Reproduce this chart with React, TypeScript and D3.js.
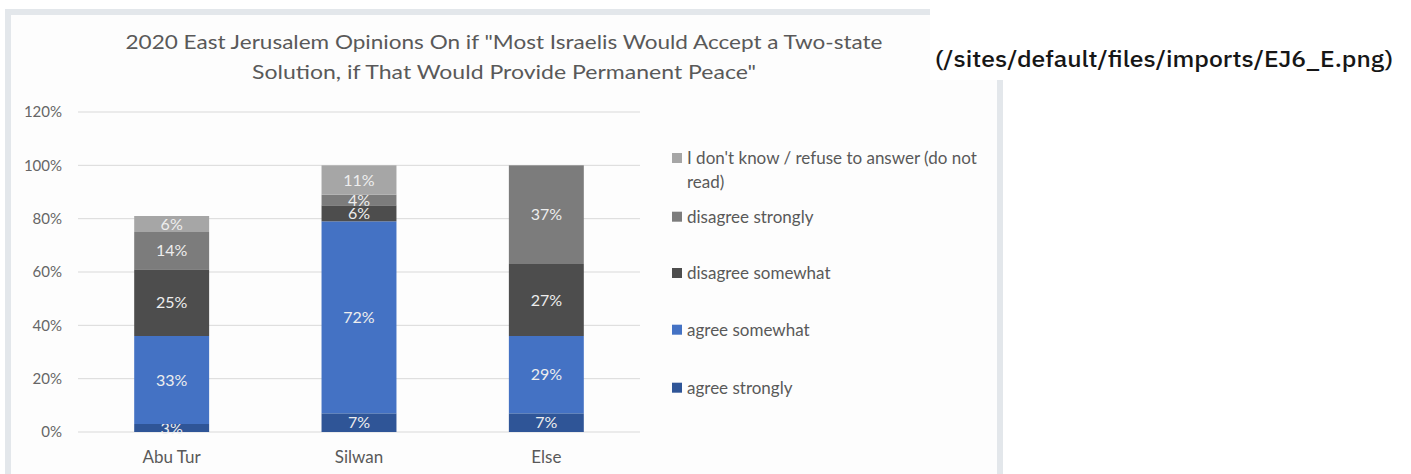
import React from "react";
import * as d3 from "d3";

const titleLines = [
  '2020 East Jerusalem Opinions On if "Most Israelis Would Accept a Two-state',
  'Solution, if That Would Provide Permanent Peace"',
];
const linkText = "(/sites/default/files/imports/EJ6_E.png)";
const categories = ["Abu Tur", "Silwan", "Else"];
const seriesNames = [
  "agree strongly",
  "agree somewhat",
  "disagree somewhat",
  "disagree strongly",
  "I don't know / refuse to answer (do not read)",
];
const agreeStrongly = [0.03, 0.07, 0.07];
const agreeSomewhat = [0.33, 0.72, 0.29];
const disagreeSomewhat = [0.25, 0.06, 0.27];
const disagreeStrongly = [0.14, 0.04, 0.37];
const dontKnow = [0.06, 0.11, 0];
const seriesValues = [agreeStrongly, agreeSomewhat, disagreeSomewhat, disagreeStrongly, dontKnow];
const colors = ["#2f5597", "#4472c4", "#4d4d4d", "#7c7c7c", "#a6a6a6"];
const yTicks = [0, 0.2, 0.4, 0.6, 0.8, 1.0, 1.2];
const legendLines = [
  ["I don't know / refuse to answer (do not", "read)"],
  ["disagree strongly"],
  ["disagree somewhat"],
  ["agree somewhat"],
  ["agree strongly"],
];
const legendColors = ["#a6a6a6", "#7c7c7c", "#4d4d4d", "#4472c4", "#2f5597"];

const FONT = "Lato, 'Open Sans', sans-serif";

export default function App() {
  const x = d3.scaleBand<string>().domain(categories).range([78, 640]).padding(0);
  const y = d3.scaleLinear().domain([0, 1.2]).range([432, 112]);
  const barW = x.bandwidth() * 0.4;

  const table = categories.map((c, i) => {
    const row: any = { cat: c };
    seriesNames.forEach((s, k) => (row[s] = seriesValues[k][i]));
    return row;
  });
  const stacked = d3.stack<any>().keys(seriesNames)(table);

  const legendY = [158, 216.7, 273, 329.7, 387.7];

  return (
    <svg
      width={1411}
      height={474}
      style={{ position: "absolute", left: 0, top: 0, display: "block", background: "#fff" }}
    >
      {/* frame */}
      <rect x={8} y={12} width={992} height={480} fill="#fdfdfd" stroke="#e3e7eb" strokeWidth={6} />
      <rect x={930} y={0} width={481} height={80} fill="#ffffff" />
      {/* title */}
      {titleLines.map((t, i) => (
        <text
          key={i}
          x={504}
          y={49 + i * 30}
          textAnchor="middle"
          fontFamily={FONT}
          fontSize={20}
          fill="#595959"
          textLength={i === 0 ? 757 : 504}
          lengthAdjust="spacingAndGlyphs"
        >
          {t}
        </text>
      ))}
      {/* gridlines + y labels */}
      {yTicks.map((t) => (
        <g key={t}>
          <line x1={78} x2={640} y1={y(t)} y2={y(t)} stroke="#d9d9d9" strokeWidth={1} />
          <text
            x={62}
            y={y(t)}
            dy="0.35em"
            textAnchor="end"
            fontFamily={FONT}
            fontSize={15}
            fill="#666666"
          >
            {d3.format(".0%")(t)}
          </text>
        </g>
      ))}
      {/* bars */}
      {stacked.map((layer, k) => (
        <g key={k}>
          {layer.map((d, i) => {
            const cx = (x(categories[i]) as number) + x.bandwidth() / 2;
            const v = d[1] - d[0];
            if (v <= 0) return null;
            return (
              <g key={i}>
                <rect
                  x={cx - barW / 2}
                  y={y(d[1])}
                  width={barW}
                  height={y(d[0]) - y(d[1])}
                  fill={colors[k]}
                />
                <text
                  x={cx}
                  y={(y(d[0]) + y(d[1])) / 2}
                  dy="0.36em"
                  textAnchor="middle"
                  fontFamily={FONT}
                  fontSize={16}
                  fill="#eeeeee"
                >
                  {d3.format(".0%")(v)}
                </text>
              </g>
            );
          })}
        </g>
      ))}
      {/* x labels */}
      {categories.map((c) => (
        <text
          key={c}
          x={(x(c) as number) + x.bandwidth() / 2}
          y={463}
          textAnchor="middle"
          fontFamily={FONT}
          fontSize={17}
          fill="#595959"
        >
          {c}
        </text>
      ))}
      {/* legend */}
      {legendLines.map((lines, i) => (
        <g key={i}>
          <rect x={672} y={legendY[i] - 5} width={10} height={10} fill={legendColors[i]} />
          {lines.map((l, j) => (
            <text
              key={j}
              x={687}
              y={legendY[i] + j * 24}
              dy="0.35em"
              fontFamily={FONT}
              fontSize={17}
              fill="#595959"
            >
              {l}
            </text>
          ))}
        </g>
      ))}
      {/* link text */}
      <text
        x={935}
        y={67}
        fontFamily="'IBM Plex Sans', Inter, 'Open Sans', sans-serif"
        fontWeight={500}
        fontSize={22}
        fill="#161616"
        textLength={458}
        lengthAdjust="spacingAndGlyphs"
      >
        {linkText}
      </text>
    </svg>
  );
}
